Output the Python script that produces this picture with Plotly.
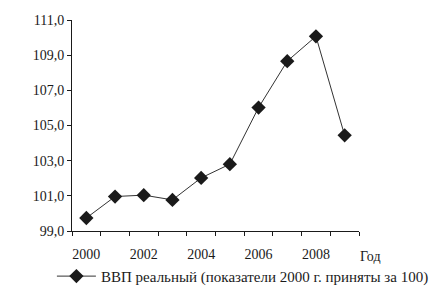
import plotly.graph_objects as go

years = [2000, 2001, 2002, 2003, 2004, 2005, 2006, 2007, 2008, 2009]
gdp = [99.74, 100.96, 101.04, 100.77, 102.02, 102.80, 106.02, 108.66, 110.07, 104.44]
x_ticks = [2000, 2002, 2004, 2006, 2008]
x_ticktext = ["2000", "2002", "2004", "2006", "2008"]
y_ticks = [99, 101, 103, 105, 107, 109, 111]
y_ticktext = ["99,0", "101,0", "103,0", "105,0", "107,0", "109,0", "111,0"]
series_name = "ВВП реальный (показатели 2000 г. приняты за 100)"
x_title = "Год"

FONT = "Liberation Serif"
INK = "#1a1a1a"

fig = go.Figure()
fig.add_trace(go.Scatter(
    x=years, y=gdp, mode="lines+markers", name=series_name,
    line=dict(color="#333333", width=1),
    marker=dict(symbol="diamond", size=11, color=INK),
))

fig.update_layout(
    width=446, height=288,
    margin=dict(l=72, r=87, t=20, b=57, autoexpand=False),
    paper_bgcolor="white", plot_bgcolor="white",
    font=dict(family=FONT, size=14, color=INK),
    showlegend=True,
    legend=dict(orientation="h", x=-0.07, y=-0.215, xanchor="left", yanchor="middle",
                itemwidth=39,
                font=dict(family=FONT, size=15, color=INK), bgcolor="rgba(0,0,0,0)"),
    xaxis=dict(
        range=[1999.5, 2009.5], tickvals=x_ticks, ticktext=x_ticktext,
        ticks="", showgrid=False, zeroline=False,
        showline=True, linecolor=INK, linewidth=1,
        ticklabelstandoff=10,
        minor=dict(tick0=1999.5, dtick=1, ticks="outside", ticklen=4, tickcolor=INK, showgrid=False),
    ),
    yaxis=dict(
        range=[99, 111], tickvals=y_ticks, ticktext=y_ticktext,
        ticks="outside", ticklen=4, tickcolor=INK, showgrid=False, zeroline=False,
        showline=True, linecolor=INK, linewidth=1,
    ),
    annotations=[dict(text=x_title, xref="paper", yref="paper", x=1.04, y=-0.12,
                      xanchor="center", yanchor="middle", showarrow=False,
                      font=dict(family=FONT, size=14, color=INK))],
)

fig.write_html("out.html")
